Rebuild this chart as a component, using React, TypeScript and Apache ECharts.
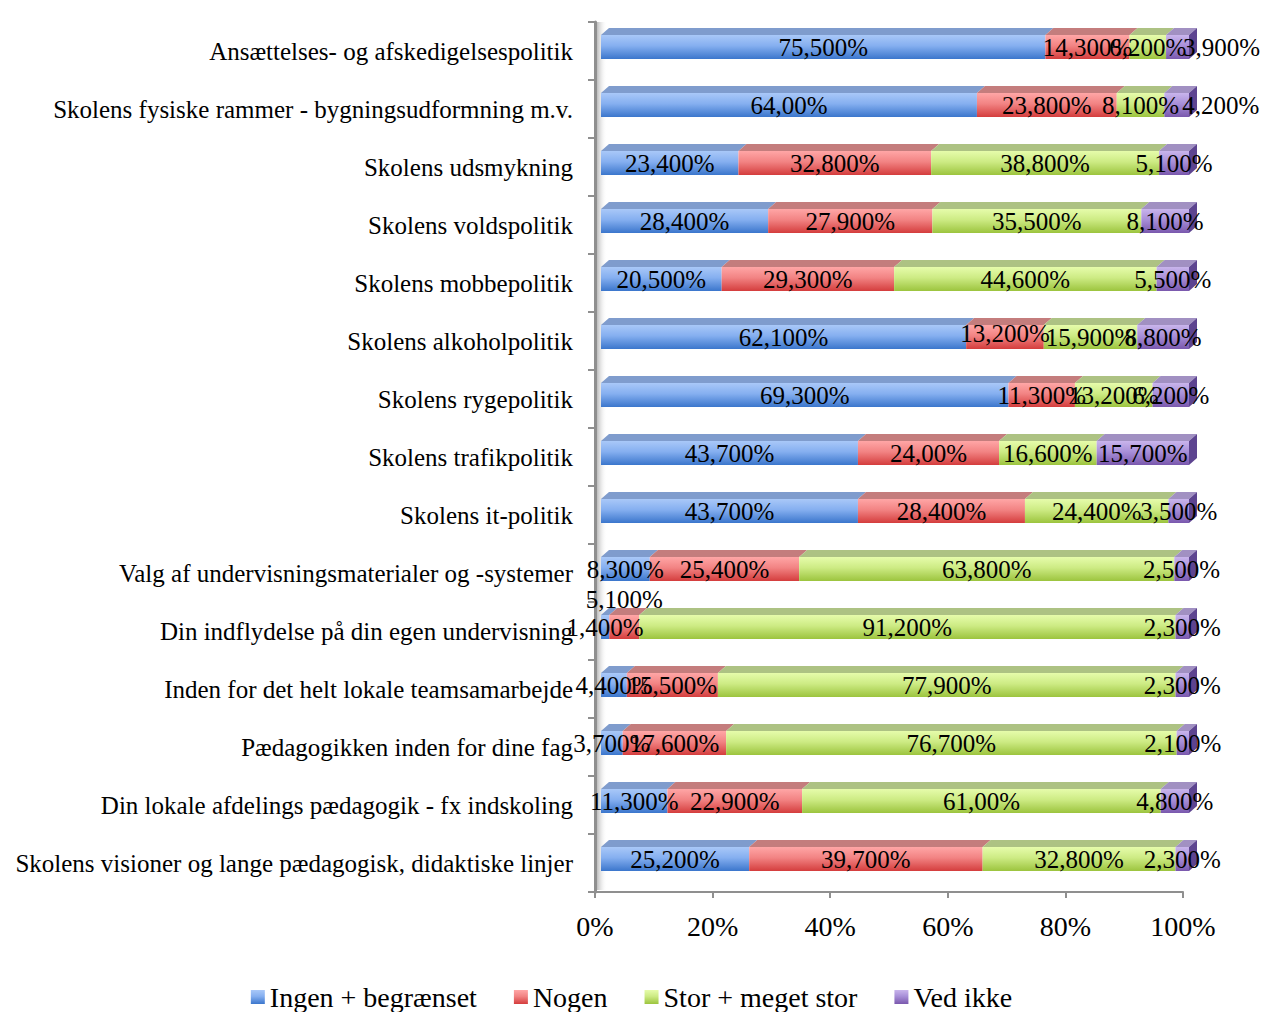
import React, { useEffect, useRef } from 'react';
import * as echarts from 'echarts';

const categories = [
  'Ansættelses- og afskedigelsespolitik',
  'Skolens fysiske rammer - bygningsudformning m.v.',
  'Skolens udsmykning',
  'Skolens voldspolitik',
  'Skolens mobbepolitik',
  'Skolens alkoholpolitik',
  'Skolens rygepolitik',
  'Skolens trafikpolitik',
  'Skolens it-politik',
  'Valg af undervisningsmaterialer og -systemer',
  'Din indflydelse på din egen undervisning',
  'Inden for det helt lokale teamsamarbejde',
  'Pædagogikken inden for dine fag',
  'Din lokale afdelings pædagogik - fx indskoling',
  'Skolens visioner og lange pædagogisk, didaktiske linjer',
];
const seriesNames = ['Ingen + begrænset', 'Nogen', 'Stor + meget stor', 'Ved ikke'];
const ingen = [75.5, 64.0, 23.4, 28.4, 20.5, 62.1, 69.3, 43.7, 43.7, 8.3, 1.4, 4.4, 3.7, 11.3, 25.2];
const nogen = [14.3, 23.8, 32.8, 27.9, 29.3, 13.2, 11.3, 24.0, 28.4, 25.4, 5.1, 15.5, 17.6, 22.9, 39.7];
const stor = [6.2, 8.1, 38.8, 35.5, 44.6, 15.9, 13.2, 16.6, 24.4, 63.8, 91.2, 77.9, 76.7, 61.0, 32.8];
const vedIkke = [3.9, 4.2, 5.1, 8.1, 5.5, 8.8, 6.2, 15.7, 3.5, 2.5, 2.3, 2.3, 2.1, 4.8, 2.3];
const xTicks = [0, 20, 40, 60, 80, 100];

const FONT = "'Liberation Serif', 'Times New Roman', serif";

// styling
const palettes = [
  { light: '#a9c8f8', mid: '#85aff0', dark: '#3b76cc', top: '#7f9ccd' },
  { light: '#ffa6a6', mid: '#f28383', dark: '#d43d3d', top: '#c47d7d' },
  { light: '#e6fcab', mid: '#cdeb84', dark: '#9cc43e', top: '#adc283' },
  { light: '#c9b5ec', mid: '#a88fd8', dark: '#7a58ad', top: '#a190c2', side: '#5d4490' },
];
const D_X = 8;
const D_Y = 7;
const FRONT_H = 24;
const FRONT_SHIFT_X = 6;
const FRONT_SHIFT_Y = -4;

// manual label nudges (row|series) as in the original
const labelNudges: Record<string, [number, number]> = {
  '0|3': [44, 0],
  '1|3': [44, 0],
  '5|1': [0, -4],
  '10|1': [0, -28],
};

const fmt = (v: number) =>
  Number.isInteger(v) ? `${v},00%` : `${String(v).replace('.', ',')}00%`;

const grad = (p: any) =>
  new echarts.graphic.LinearGradient(0, 0, 0, 1, [
    { offset: 0, color: p.light },
    { offset: 0.45, color: p.mid },
    { offset: 1, color: p.dark },
  ]);

export default function App() {
  const ref = useRef<HTMLDivElement>(null);
  useEffect(() => {
    if (!ref.current) return;
    const chart = echarts.init(ref.current, undefined, { renderer: 'svg' });
    const all = [ingen, nogen, stor, vedIkke];
    const totals = categories.map((_, i) => all.reduce((s, a) => s + a[i], 0));

    const series = all.map((arr, si) => {
      const data = arr.map((v, ci) => {
        let before = 0;
        for (let k = 0; k < si; k++) before += all[k][ci];
        const start = (before / totals[ci]) * 100;
        const end = ((before + v) / totals[ci]) * 100;
        return [ci, start, end, v];
      });
      const p = palettes[si];
      return {
        name: seriesNames[si],
        type: 'custom',
        itemStyle: { color: grad(p) },
        encode: { x: [1, 2], y: 0 },
        data,
        renderItem: (params: any, api: any) => {
          const ci = api.value(0);
          const start = api.value(1);
          const end = api.value(2);
          const raw = api.value(3);
          const p0 = api.coord([start, ci]);
          const p1 = api.coord([end, ci]);
          const x0 = p0[0] + FRONT_SHIFT_X;
          const x1 = p1[0] + FRONT_SHIFT_X;
          const yc = p0[1] + FRONT_SHIFT_Y;
          const yT = yc - FRONT_H / 2;
          const yB = yc + FRONT_H / 2;
          const children: any[] = [
            {
              type: 'polygon',
              shape: { points: [[x0, yT], [x1, yT], [x1 + D_X, yT - D_Y], [x0 + D_X, yT - D_Y]] },
              style: { fill: p.top },
            },
            {
              type: 'rect',
              shape: { x: x0, y: yT, width: Math.max(0, x1 - x0), height: FRONT_H },
              style: { fill: grad(p) },
            },
          ];
          if (si === all.length - 1) {
            children.push({
              type: 'polygon',
              shape: { points: [[x1, yT], [x1 + D_X, yT - D_Y], [x1 + D_X, yB - D_Y], [x1, yB]] },
              style: { fill: p.side },
            });
          }
          const nudge = labelNudges[`${ci}|${si}`] || [0, 0];
          children.push({
            type: 'text',
            z2: 100,
            style: {
              x: (x0 + x1) / 2 + nudge[0],
              y: yc + nudge[1],
              text: fmt(raw),
              align: 'center',
              verticalAlign: 'middle',
              fill: '#000',
              fontSize: 25,
              fontFamily: FONT,
            },
          });
          return { type: 'group', children };
        },
      };
    });

    chart.setOption({
      animation: false,
      backgroundColor: '#fff',
      grid: { left: 595, top: 22, width: 588, height: 870, containLabel: false },
      xAxis: {
        type: 'value',
        min: xTicks[0],
        max: xTicks[xTicks.length - 1],
        interval: xTicks[1] - xTicks[0],
        axisLabel: {
          formatter: '{value}%',
          fontSize: 28,
          fontFamily: FONT,
          color: '#000',
          margin: 20,
        },
        axisLine: { show: true, lineStyle: { color: '#8f8f8f', width: 2 } },
        axisTick: { show: true, length: 6, lineStyle: { color: '#8f8f8f', width: 2 } },
        splitLine: { show: false },
      },
      yAxis: {
        type: 'category',
        inverse: true,
        data: categories,
        axisLabel: {
          fontSize: 25,
          fontFamily: FONT,
          color: '#000',
          margin: 22,
        },
        axisLine: { show: true, lineStyle: { color: '#8f8f8f', width: 3 } },
        axisTick: { show: true, length: 7, lineStyle: { color: '#8f8f8f', width: 2 } },
      },
      legend: {
        left: 'center',
        top: 983,
        padding: 0,
        icon: 'rect',
        itemWidth: 14,
        itemHeight: 14,
        itemGap: 37,
        textStyle: { fontSize: 28, lineHeight: 28, fontFamily: FONT, color: '#000' },
        data: seriesNames.map((n, i) => ({ name: n, itemStyle: { color: grad(palettes[i]) } })),
      },
      graphic: [
        {
          type: 'rect',
          left: 597,
          top: 22,
          z: 0,
          shape: { width: 10, height: 868 },
          style: {
            fill: new echarts.graphic.LinearGradient(0, 0, 1, 0, [
              { offset: 0, color: '#bdbdbd' },
              { offset: 1, color: 'rgba(255,255,255,0)' },
            ]),
          },
        },
      ],
      series,
    });
    return () => chart.dispose();
  }, []);
  return (
    <div
      ref={ref}
      style={{ position: 'absolute', left: 0, top: 0, width: 1263, height: 1012 }}
    />
  );
}
